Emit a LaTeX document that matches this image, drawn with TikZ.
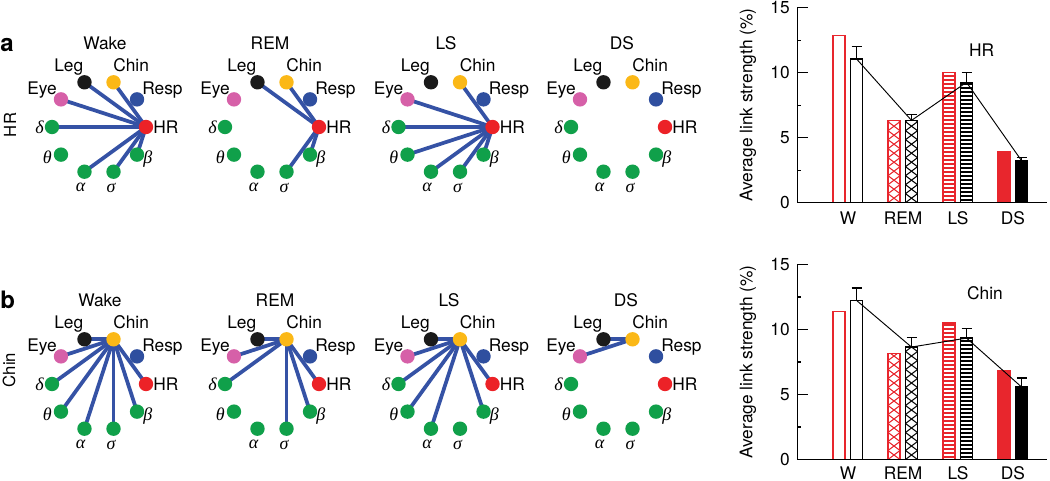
\documentclass[tikz,border=0pt]{standalone}
\usepackage{fontspec}
\setmainfont{TeX Gyre Heros}
\newfontfamily\grk{Liberation Serif}
\usetikzlibrary{calc}
\pgfdeclarelayer{bg}
\pgfsetlayers{bg,main}
\definecolor{cHR}{HTML}{EC2227}
\definecolor{cResp}{HTML}{2F4F9F}
\definecolor{cChin}{HTML}{FBB817}
\definecolor{cLeg}{HTML}{1A1A1A}
\definecolor{cEye}{HTML}{D660A8}
\definecolor{cGr}{HTML}{10A04A}
\definecolor{cEdge}{HTML}{3552A5}
\definecolor{cRed}{HTML}{E8262D}
\tikzset{
  dot/.style={circle, inner sep=0pt, minimum size=10.8pt},
  lab/.style={inner sep=0pt, font=\fontsize{13}{15}\selectfont},
  glab/.style={inner sep=0pt, font=\fontsize{13.5}{15}\selectfont\grk\itshape},
  edge/.style={draw=cEdge, line width=2.8pt},
  axisline/.style={draw=black, line width=1pt},
  errb/.style={draw=black, line width=1pt},
  conn/.style={draw=black, line width=0.7pt},
}
\newcommand\netpanel[5]{%
  \foreach \nm/\ang/\col in {HR/0/cHR, Resp/36/cResp, Chin/72/cChin, Leg/108/cLeg, Eye/144/cEye, d/180/cGr, t/216/cGr, a/252/cGr, s/288/cGr, b/324/cGr}{
    \node[dot, fill=\col] (#1-\nm) at ({#2+47*cos(\ang)},{#3-47*sin(\ang)}) {};
  }
  \node[lab, anchor=base east] at ($(#1-Leg)+(-1,-11)$) {Leg};
  \node[lab, anchor=base west] at ($(#1-Chin)+(-0.5,-11)$) {Chin};
  \node[lab, anchor=base west] at ($(#1-Resp)+(5,-5)$) {Resp};
  \node[lab, anchor=base east] at ($(#1-Eye)+(-4,-5)$) {Eye};
  \node[lab, anchor=west] at ($(#1-HR)+(7,0)$) {HR};
  \node[glab, anchor=east] at ($(#1-d)+(-8,0)$) {δ};
  \node[glab, anchor=east] at ($(#1-t)+(-9,3)$) {θ};
  \node[glab, anchor=north] at ($(#1-a)+(-4,11)$) {α};
  \node[glab, anchor=north] at ($(#1-s)+(-2.5,11)$) {σ};
  \node[glab, anchor=west] at ($(#1-b)+(6,4)$) {β};
  \node[lab] at (#5,{#3-84}) {#4};
}
\newcommand\edges[3]{%
  \begin{pgfonlayer}{bg}
  \foreach \tg in {#3}{\draw[edge] (#1-#2.center) -- (#1-\tg.center);}
  \end{pgfonlayer}
}
\newcommand\stripeoff{0.2}
% type, xl, xr, top, color
\newcommand\patbar[5]{%
  \ifcase#1
    \fill[white] ({#2},0) rectangle ({#3},#4);
  \or
    \begin{scope}
      \clip ({#2},0) rectangle ({#3},#4);
      \foreach \k in {-1,...,22}{
        \draw[#5, line width=0.8pt] ({#2},{\k*0.6923}) -- ({#3},{(\k+1)*0.6923});
        \draw[#5, line width=0.8pt] ({#3},{\k*0.6923}) -- ({#2},{(\k+1)*0.6923});
      }
    \end{scope}
  \or
    \begin{scope}
      \clip ({#2},0) rectangle ({#3},#4);
      \foreach \k in {0,...,52}{
        \draw[#5, line width=1.5pt] ({#2},{\k*4/13+\stripeoff}) -- ({#3},{\k*4/13+\stripeoff});
      }
    \end{scope}
  \or
    \fill[#5] ({#2},0) rectangle ({#3},#4);
  \fi
  \draw[#5, line width=1pt] ({#2},0) rectangle ({#3},#4);
}
% name, center, red, black, err, type
\newcommand\grp[6]{%
  \patbar{#6}{#2-15}{#2-3}{#3}{cRed}
  \patbar{#6}{#2+2.5}{#2+14.5}{#4}{black}
  \coordinate (#1) at ({#2+8.5},#4);
  \draw[errb] (#1) -- ({#2+8.5},#5);
  \draw[errb] ({#2+3.5},#5) -- ({#2+13.5},#5);
}
% #1: vertical position of category labels (data units)
\newcommand\chartaxes[1]{%
  \draw[axisline] (797.3,15) -- (797.3,0) -- (1046.7,0);
  \foreach \v in {5,10,15}{\draw[axisline] (797.3,\v) -- ++(11,0);}
  \foreach \v in {2.5,7.5,12.5}{\draw[axisline] (797.3,\v) -- ++(4,0);}
  \foreach \v in {0,5,10,15}{\node[lab, anchor=east] at (790,\v) {\v};}
  \node[lab, rotate=90] at (748,7.5) {Average link strength (\%)};
  \foreach \c/\t in {848/W, 903/REM, 958/LS, 1013/DS}{\node[lab] at (\c,#1) {\t};}
}
\begin{document}
\begin{tikzpicture}[x=0.75pt, y=-0.75pt]
\useasboundingbox (0,0) rectangle (1050,481);
% panel letters and side labels
\node[inner sep=0pt, anchor=base west, font=\fontsize{18}{20}\selectfont\bfseries] at (0,52) {a};
\node[inner sep=0pt, anchor=base west, font=\fontsize{18}{20}\selectfont\bfseries] at (0,308) {b};
\node[inner sep=0pt, rotate=90, font=\fontsize{12.5}{14}\selectfont] at (10,125) {HR};
\node[inner sep=0pt, rotate=90, font=\fontsize{12.5}{14}\selectfont] at (9,370) {Chin};
% row a
\netpanel{aW}{99}{127}{Wake}{105}
\netpanel{aR}{272}{127}{REM}{270}
\netpanel{aL}{445.5}{127}{LS}{446}
\netpanel{aD}{618}{127}{DS}{622}
\edges{aW}{HR}{Leg,Chin,Eye,d,a,s,b}
\edges{aR}{HR}{Leg,Chin,s,b}
\edges{aL}{HR}{Chin,Eye,d,t,a,s,b}
% row b
\netpanel{bW}{99}{384}{Wake}{100}
\netpanel{bR}{272}{384}{REM}{275}
\netpanel{bL}{445.5}{384}{LS}{449}
\netpanel{bD}{618}{384}{DS}{626}
\edges{bW}{Chin}{Leg,Eye,d,t,a,s,b,HR}
\edges{bR}{Chin}{Leg,Eye,d,s,b,HR}
\edges{bL}{Chin}{Leg,Eye,d,t,a,b,HR}
\edges{bD}{Chin}{Leg,Eye}
% chart a
\renewcommand\stripeoff{0.2077}
\begin{scope}[shift={(0,202.7)}, yscale=-13]
  \grp{taW}{848}{12.86}{11.06}{12.04}{0}
  \grp{taR}{903}{6.33}{6.33}{6.77}{1}
  \grp{taL}{958}{10.03}{9.26}{10.03}{2}
  \grp{taD}{1013}{3.94}{3.24}{3.5}{3}
  \draw[conn] (taW) -- (taR) -- (taL) -- (taD);
  \chartaxes{-1.2}
  \node[lab] at (981.7,11.75) {HR};
\end{scope}
% chart b
\renewcommand\stripeoff{0.1923}
\begin{scope}[shift={(0,459.5)}, yscale=-13]
  \grp{tbW}{848}{11.37}{12.24}{13.2}{0}
  \grp{tbR}{903}{8.14}{8.65}{9.37}{1}
  \grp{tbL}{958}{10.49}{9.34}{10.06}{2}
  \grp{tbD}{1013}{6.86}{5.58}{6.27}{3}
  \draw[conn] (tbW) -- (tbR) -- (tbL) -- (tbD);
  \chartaxes{-1.03}
  \node[lab] at (985,12.83) {Chin};
\end{scope}
\end{tikzpicture}
\end{document}
